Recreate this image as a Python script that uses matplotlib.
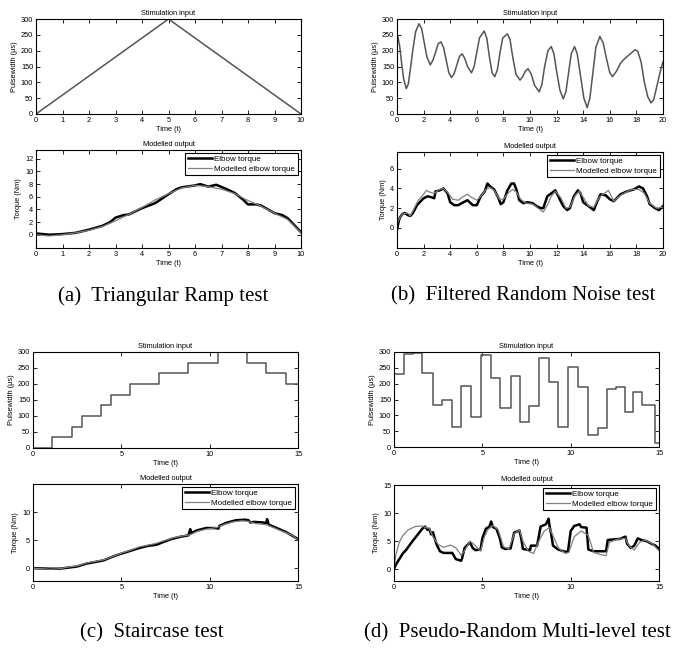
import matplotlib
matplotlib.use("Agg")
import matplotlib.pyplot as plt

plt.rcParams["font.family"] = ["Liberation Sans", "DejaVu Sans"]

# (a) triangular ramp test
ramp_t = [0, 5, 10]
ramp_pw = [0, 300, 0]
ramp_meas_t = [0, 0.5, 1, 1.5, 2, 2.5, 2.8, 3, 3.3, 3.5, 4, 4.5, 5, 5.3, 5.5, 6, 6.2, 6.5, 6.8,
               7.2, 7.5, 7.8, 8, 8.3, 8.5, 9, 9.3, 9.5, 10]
ramp_meas = [0.2, 0.0, 0.1, 0.3, 0.8, 1.4, 2.0, 2.7, 3.1, 3.2, 4.2, 5.0, 6.4, 7.2, 7.5, 7.8, 8.0, 7.6, 7.9,
             7.2, 6.6, 5.6, 4.8, 4.8, 4.6, 3.4, 3.1, 2.6, 0.4]
ramp_model_t = [0, 0.5, 1, 1.5, 2, 2.5, 3, 3.5, 4, 4.5, 5, 5.5, 6, 6.5, 7, 7.5, 8, 8.5, 9, 9.5, 10]
ramp_model = [0.0, -0.2, 0.0, 0.3, 0.7, 1.3, 2.2, 3.2, 4.3, 5.5, 6.5, 7.4, 7.8, 7.6, 7.2, 6.5, 5.4, 4.5,
              3.4, 2.4, 0.3]

# (b) filtered random noise test
noise_t = [0, 0.2, 0.35, 0.5, 0.7, 0.85, 1.0, 1.2, 1.4, 1.65, 1.85, 2.05, 2.25, 2.5, 2.7, 2.9, 3.1, 3.3,
           3.5, 3.7, 3.9, 4.1, 4.3, 4.5, 4.7, 4.9, 5.1, 5.3, 5.6, 5.8, 6.0, 6.2, 6.55, 6.75, 6.95, 7.15,
           7.35, 7.55, 7.75, 7.95, 8.3, 8.5, 8.7, 8.95, 9.25, 9.45, 9.65, 9.85, 10.1, 10.35, 10.7, 10.9,
           11.1, 11.35, 11.6, 11.8, 12.0, 12.25, 12.5, 12.7, 12.9, 13.1, 13.35, 13.55, 13.8, 14.05, 14.3,
           14.5, 14.7, 14.95, 15.25, 15.5, 15.75, 16.0, 16.2, 16.5, 16.8, 17.0, 17.4, 17.9, 18.1, 18.35,
           18.6, 18.85, 19.1, 19.3, 19.55, 19.8, 20]
noise_pw = [258, 215, 160, 110, 80, 95, 140, 205, 260, 285, 270, 225, 180, 155, 170, 195, 222, 228,
            210, 170, 130, 115, 128, 155, 182, 190, 175, 150, 130, 150, 195, 240, 262, 240, 180, 130,
            118, 140, 195, 240, 253, 235, 180, 125, 107, 118, 135, 143, 125, 90, 70, 95,
            150, 200, 213, 190, 135, 75, 48, 70, 130, 190, 213, 190, 120, 50, 20,
            50, 120, 210, 245, 225, 175, 130, 118, 135, 160, 170, 185, 203, 198, 165,
            100, 55, 35, 45, 90, 135, 165]
noise_meas_t = [0, 0.1, 0.2, 0.4, 0.6, 0.8, 1.0, 1.2, 1.5, 2.0, 2.3, 2.6, 2.8, 2.9, 3.2, 3.5, 3.8, 4.0,
                4.3, 4.6, 5.0, 5.3, 5.7, 6.0, 6.3, 6.6, 6.8, 7.0, 7.3, 7.6, 7.8, 8.0, 8.3, 8.6, 8.8, 9.0,
                9.2, 9.5, 9.8, 10.2, 10.5, 10.8, 11.0, 11.3, 11.7, 11.9, 12.2, 12.5, 12.8, 13.0, 13.3,
                13.6, 13.8, 14.0, 14.5, 14.8, 15.0, 15.3, 15.7, 16.0, 16.3, 16.8, 17.3, 17.8, 18.2, 18.5,
                18.8, 19.0, 19.4, 19.7, 20]
noise_meas = [-0.2, 0.5, 1.0, 1.4, 1.5, 1.3, 1.2, 1.5, 2.3, 3.0, 3.2, 3.1, 3.0, 3.7, 3.8, 4.0, 3.5, 2.6,
              2.3, 2.3, 2.6, 2.8, 2.3, 2.3, 3.2, 3.7, 4.5, 4.2, 3.9, 3.1, 2.4, 2.6, 3.8, 4.5, 4.5, 3.8,
              2.8, 2.5, 2.6, 2.5, 2.2, 2.0, 2.0, 3.2, 3.6, 3.8, 3.0, 2.2, 1.8, 2.0, 3.2,
              3.8, 3.5, 2.6, 2.1, 1.8, 2.5, 3.4, 3.3, 2.9, 2.7, 3.4, 3.7, 3.9, 4.2, 4.0,
              3.2, 2.4, 2.0, 1.8, 2.2]
noise_model_t = [0, 0.2, 0.4, 0.8, 1.0, 1.3, 1.6, 2.0, 2.2, 2.5, 2.8, 3.2, 3.5, 3.8, 4.2, 4.6, 5.0, 5.3,
                 5.6, 6.0, 6.3, 6.7, 7.0, 7.3, 7.7, 8.0, 8.4, 8.7, 9.0, 9.3, 9.7, 10.2, 10.6, 11.0, 11.3,
                 11.6, 11.9, 12.3, 12.7, 13.0, 13.4, 13.7, 14.0, 14.4, 14.8, 15.2, 15.6, 15.9, 16.3, 16.7,
                 17.2, 17.7, 18.2, 18.6, 19.0, 19.5, 20]
noise_model = [0.4, 1.0, 1.4, 1.5, 1.2, 2.0, 2.8, 3.4, 3.8, 3.6, 3.5, 3.9, 4.0, 3.6, 2.9, 2.8, 3.2, 3.4,
               3.1, 2.8, 3.2, 3.9, 4.1, 3.8, 2.9, 2.9, 3.6, 3.9, 3.6, 2.9, 2.5, 2.4, 2.0, 1.6, 2.3,
               3.2, 3.7, 3.1, 2.0, 2.1, 3.3, 3.7, 3.1, 2.2, 2.1, 3.1, 3.5, 3.8, 2.7, 3.2,
               3.6, 3.9, 3.9, 3.5, 2.5, 2.0, 2.1]

# (c) staircase test
stair_t = [0, 1.05, 2.2, 2.8, 3.85, 4.4, 5.5, 7.15, 8.8, 10.45, 12.1, 13.2, 14.3, 15]
stair_pw = [0, 33, 67, 100, 133, 167, 200, 233, 267, 300, 267, 233, 200, 200]
stair_meas_t = [0, 1.0, 1.5, 2.0, 2.5, 3.0, 3.5, 4.0, 4.3, 4.7, 5.0, 5.5, 6.0, 6.5, 7.0, 7.3, 7.8, 8.3,
                8.8, 8.9, 8.95, 9.3, 9.8, 10.3, 10.5, 10.55, 11.0, 11.5, 12.0, 12.2, 12.3, 12.5, 13.0,
                13.2, 13.25, 13.35, 13.8, 14.3, 14.7, 15.0]
stair_meas = [0.0, -0.1, -0.1, 0.1, 0.3, 0.8, 1.1, 1.4, 1.8, 2.3, 2.6, 3.1, 3.6, 4.0, 4.2, 4.6, 5.2, 5.6,
              5.9, 7.0, 6.3, 6.8, 7.2, 7.2, 7.1, 7.6, 8.2, 8.6, 8.7, 8.6, 8.2, 8.3, 8.2,
              8.1, 8.8, 7.8, 7.2, 6.5, 5.8, 5.2]
stair_model_t = [0, 1.0, 1.5, 2.0, 2.5, 3.0, 3.5, 4.0, 4.5, 5.0, 5.5, 6.0, 6.5, 7.0, 7.5, 8.0, 8.5, 8.9,
                 9.3, 9.8, 10.4, 10.8, 11.3, 11.8, 12.2, 12.6, 13.2, 13.6, 14.2, 14.7, 15.0]
stair_model = [0.0, -0.2, -0.1, 0.2, 0.4, 0.9, 1.2, 1.5, 2.1, 2.7, 3.2, 3.8, 4.1, 4.5, 5.0, 5.5, 5.8, 6.0,
               6.6, 7.0, 7.3, 7.8, 8.3, 8.5, 8.4, 8.0, 7.8, 7.3, 6.5, 5.9, 5.0]

# (d) pseudo-random multi-level test
prml_t = [0, 0.55, 1.05, 1.6, 2.2, 2.7, 3.3, 3.8, 4.35, 4.95, 5.5, 6.0, 6.6, 7.15, 7.65, 8.2, 8.75,
          9.3, 9.85, 10.4, 11.0, 11.55, 12.05, 12.55, 13.05, 13.55, 14.05, 14.75, 15]
prml_pw = [230, 293, 298, 235, 133, 148, 63, 193, 95, 289, 218, 122, 223, 78, 130, 281, 205,
           62, 252, 189, 38, 60, 182, 189, 110, 173, 134, 13, 13]
prml_meas_t = [0, 0.1, 0.3, 0.5, 0.7, 1.0, 1.3, 1.6, 1.75, 1.9, 2.0, 2.1, 2.2, 2.4, 2.6, 2.8, 3.0, 3.3,
               3.5, 3.8, 3.85, 4.0, 4.3, 4.45, 4.6, 4.9, 5.0, 5.2, 5.4, 5.5, 5.6, 5.8, 6.0, 6.1, 6.3,
               6.6, 6.8, 7.1, 7.2, 7.3, 7.7, 7.75, 8.1, 8.3, 8.6, 8.75, 8.8, 8.9, 9.0, 9.3, 9.7, 9.85,
               10.0, 10.2, 10.5, 10.6, 10.9, 11.0, 11.3, 11.6, 12.0, 12.1, 12.4, 12.8, 13.1, 13.2, 13.4,
               13.6, 13.8, 14.0, 14.3, 14.6, 14.8, 15.0]
prml_meas = [0.0, 0.8, 1.8, 2.8, 3.5, 4.8, 6.0, 7.2, 7.6, 7.0, 7.2, 6.2, 6.6, 4.5, 3.2, 2.9, 2.9, 2.9,
             1.8, 1.5, 1.9, 3.8, 4.8, 3.8, 3.4, 3.5, 5.5, 7.2, 7.6, 8.5, 7.5, 7.2, 5.4, 3.9, 3.6,
             3.7, 6.5, 6.9, 5.5, 3.6, 3.4, 4.2, 4.2, 7.6, 8.0, 9.0, 7.8, 6.2, 4.2, 3.5, 3.1, 3.2,
             6.8, 7.7, 8.0, 7.5, 7.4, 3.5, 3.2, 3.2, 3.2, 5.2, 5.3, 5.4, 5.8, 4.5, 3.8,
             4.2, 5.5, 5.2, 5.0, 4.5, 4.2, 3.6]
prml_model_t = [0, 0.1, 0.3, 0.5, 0.8, 1.2, 1.6, 1.8, 2.0, 2.2, 2.5, 2.8, 3.2, 3.5, 3.8, 4.0, 4.3, 4.5,
                4.9, 5.1, 5.3, 5.6, 5.9, 6.2, 6.5, 6.8, 7.1, 7.3, 7.6, 7.9, 8.2, 8.5, 8.8, 9.0, 9.3,
                9.7, 9.9, 10.2, 10.6, 11.0, 11.3, 11.7, 12.0, 12.2, 12.6, 13.1, 13.3, 13.6, 13.9, 14.2,
                14.6, 15.0]
prml_model = [0.0, 2.5, 4.8, 6.0, 7.0, 7.6, 7.7, 7.4, 7.3, 5.8, 4.4, 3.9, 4.3, 3.8, 2.5, 3.3, 5.0, 4.5,
              3.2, 5.6, 7.0, 7.8, 7.0, 4.0, 3.6, 6.3, 7.0, 5.0, 3.2, 2.8, 5.0, 6.8, 7.4, 6.0, 3.8,
              2.8, 3.0, 5.8, 6.8, 6.0, 3.0, 2.6, 2.4, 4.8, 5.3, 5.5, 4.2, 3.4, 4.8, 5.2,
              4.6, 3.3]

W, H = 677, 649
FS = 5.3


def _axes(fig, left, top, right, bottom):
    ax = fig.add_axes([left / W, 1 - bottom / H, (right - left) / W, (bottom - top) / H])
    ax.tick_params(direction="in", top=True, right=True, length=3, width=0.6, labelsize=FS, pad=2)
    for s in ax.spines.values():
        s.set_linewidth(0.8)
    return ax


def _input_plot(ax, t, pw, xmax, xticks, steps=False):
    ax.plot(t, pw, color="#555555", linewidth=1.1, drawstyle="steps-post" if steps else "default")
    ax.set_xlim(0, xmax)
    ax.set_ylim(0, 300)
    ax.set_xticks(xticks)
    ax.set_yticks(range(0, 301, 50))
    ax.set_title("Stimulation input", fontsize=FS, pad=3)
    ax.set_xlabel("Time (t)", fontsize=FS, labelpad=1.5)
    ax.set_ylabel("Pulsewidth (μs)", fontsize=FS, labelpad=2)


def _output_plot(ax, mt, mv, pt, pv, xmax, xticks, ylim, yticks):
    ax.plot(mt, mv, color="black", linewidth=1.8, label="Elbow torque")
    ax.plot(pt, pv, color="#808080", linewidth=0.9, label="Modelled elbow torque")
    ax.set_xlim(0, xmax)
    ax.set_ylim(*ylim)
    ax.set_xticks(xticks)
    ax.set_yticks(yticks)
    ax.set_title("Modelled output", fontsize=FS, pad=3)
    ax.set_xlabel("Time (t)", fontsize=FS, labelpad=1.5)
    ax.set_ylabel("Torque (Nm)", fontsize=FS, labelpad=2)
    leg = ax.legend(loc="upper right", fontsize=FS + 0.5, frameon=True, fancybox=False, framealpha=1,
                    edgecolor="black", borderpad=0.3, handlelength=3.0, handletextpad=0.3,
                    labelspacing=0.25, borderaxespad=0.4)
    leg.get_frame().set_linewidth(0.8)


fig = plt.figure(figsize=(W / 100, H / 100), dpi=100)

ax = _axes(fig, 36, 19, 301, 114)
_input_plot(ax, ramp_t, ramp_pw, 10, range(0, 11))
ax = _axes(fig, 36, 150, 301, 248)
_output_plot(ax, ramp_meas_t, ramp_meas, ramp_model_t, ramp_model, 10, range(0, 11),
             (-2.1, 13.4), range(0, 13, 2))

ax = _axes(fig, 397, 19, 663, 114)
_input_plot(ax, noise_t, noise_pw, 20, range(0, 21, 2))
ax = _axes(fig, 397, 152, 663, 248)
_output_plot(ax, noise_meas_t, noise_meas, noise_model_t, noise_model, 20, range(0, 21, 2),
             (-2.05, 7.7), range(0, 7, 2))

ax = _axes(fig, 33, 352, 298, 448)
_input_plot(ax, stair_t, stair_pw, 15, [0, 5, 10, 15], steps=True)
ax = _axes(fig, 33, 484, 298, 581)
_output_plot(ax, stair_meas_t, stair_meas, stair_model_t, stair_model, 15, [0, 5, 10, 15],
             (-2.3, 15.1), [0, 5, 10])

ax = _axes(fig, 394, 352, 659, 447)
_input_plot(ax, prml_t, prml_pw, 15, [0, 5, 10, 15], steps=True)
ax = _axes(fig, 394, 485, 659, 581)
_output_plot(ax, prml_meas_t, prml_meas, prml_model_t, prml_model, 15, [0, 5, 10, 15],
             (-2.1, 15), [0, 5, 10, 15])

captions = [(163, 296, "(a)  Triangular Ramp test"), (523, 296, "(b)  Filtered Random Noise test"),
            (152, 633, "(c)  Staircase test"), (517, 633, "(d)  Pseudo-Random Multi-level test")]
for x, y, text in captions:
    fig.text(x / W, 1 - y / H, text, ha="center", va="center", fontsize=15, family="Liberation Serif")

fig.savefig("out.png", dpi=100)
